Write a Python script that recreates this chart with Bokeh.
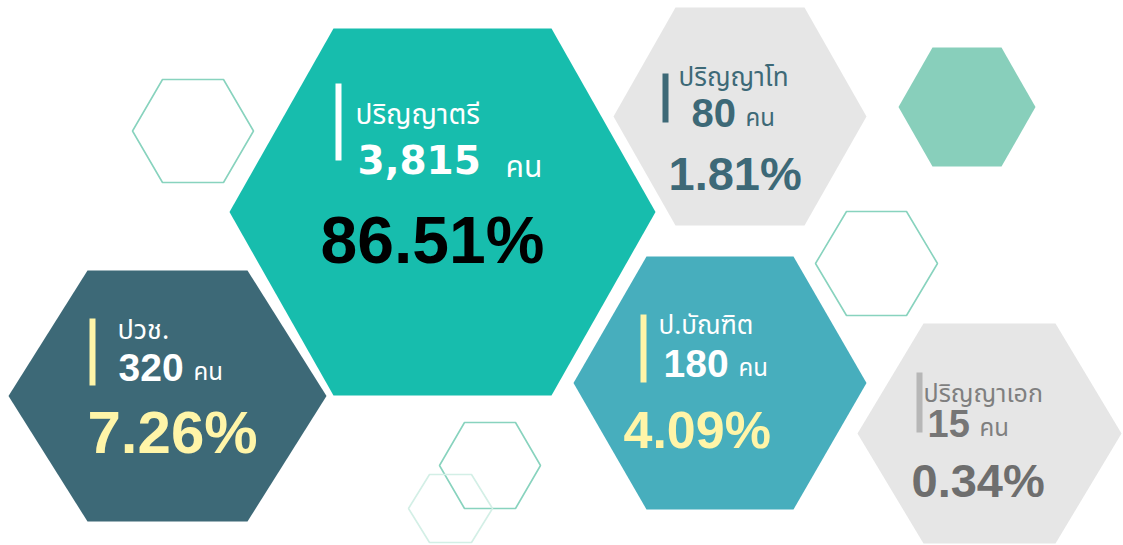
from bokeh.plotting import figure
from bokeh.models import Range1d
from bokeh.embed import file_html
from bokeh.resources import INLINE
from bokeh.core.properties import value

# ---- data ----
levels = ["ปริญญาตรี", "ปริญญาโท", "ปวช.", "ป.บัณฑิต", "ปริญญาเอก"]
counts = [3815, 80, 320, 180, 15]
percents = [86.51, 1.81, 7.26, 4.09, 0.34]
unit = "คน"

# ---- layout (screen-pixel coordinates) ----
# hexagon: cx, cy, half width, half height, corner offset
card_hex = [
    (442, 211.5, 213, 183.5, 104),
    (739.5, 116, 126.5, 109, 62),
    (167, 395.5, 159, 125.5, 79),
    (719.5, 382.5, 146.5, 126.5, 73),
    (989, 433, 132, 110, 66),
]
card_fill = ["#17BDAD", "#E6E6E6", "#3D6977", "#47AEBD", "#E6E6E6"]
bar_col = ["#FFFFFF", "#3D6977", "#FFF5A8", "#FFF5A8", "#B7B7B7"]
label_col = ["#FFFFFF", "#3D6977", "#FFFFFF", "#FFFFFF", "#7F7F7F"]
count_col = ["#FFFFFF", "#3D6977", "#FFFFFF", "#FFFFFF", "#767676"]
pct_col = ["#000000", "#3D6977", "#FFF5A8", "#FFF5A8", "#6E6E6E"]

bar_box = [(335, 341, 83, 160), (662, 668, 73, 122), (89, 95, 318, 385),
           (640, 646, 314, 382), (916, 922, 372, 432)]
label_pos = [(355, 125, 28), (678, 87, 26), (117, 340, 27), (658, 335, 26), (923, 402, 25)]
count_pos = [(357, 173, 39), (691, 127, 40), (118, 381, 39), (663, 377, 39), (927, 437, 38)]
count_font = ["DejaVu Sans", "Liberation Sans", "Liberation Sans", "Liberation Sans", "Liberation Sans"]
unit_pos = [(505, 178, 30), (745, 127, 24), (193, 381, 24), (738, 377, 24), (979, 437, 24)]
pct_pos = [(320, 263, 66), (668, 190, 47), (87, 454, 60), (623, 448, 52), (911, 497, 47)]

deco_fill = [(966.5, 106.5, 68.5, 59.5, 34)]
deco_line = [(192.5, 130.5, 60.5, 51.5, 30), (876, 263, 61, 52, 31),
             (489.5, 465, 50.5, 43, 25), (450, 508, 42, 34, 21)]
deco_line_col = ["#88D3BE", "#88D3BE", "#88D3BE", "#D3EFE6"]

BASE_SHIFT = 0.36  # renderer places the alphabetic baseline this far (in em) below y


def hexagon(cx, cy, hw, hh, off):
    xs = [cx - hw, cx - hw + off, cx + hw - off, cx + hw, cx + hw - off, cx - hw + off]
    ys = [cy, cy - hh, cy - hh, cy, cy + hh, cy + hh]
    return xs, ys


W, H = 1123, 545
p = figure(width=W, height=H, x_range=Range1d(0, W), y_range=Range1d(H, 0),
           output_backend="svg", toolbar_location=None, min_border=0,
           x_axis_location=None, y_axis_location=None)
p.grid.visible = False
p.outline_line_color = None
p.background_fill_color = "white"
p.border_fill_color = "white"

# decorative outlines
hx = [hexagon(*h) for h in deco_line]
p.patches(xs=[h[0] for h in hx], ys=[h[1] for h in hx], fill_color=None,
          line_color=deco_line_col, line_width=1.6)
hx = [hexagon(*h) for h in deco_fill]
p.patches(xs=[h[0] for h in hx], ys=[h[1] for h in hx], fill_color="#88CFBB", line_color=None)

# cards
hx = [hexagon(*h) for h in card_hex]
p.patches(xs=[h[0] for h in hx], ys=[h[1] for h in hx], fill_color=card_fill, line_color=None)

p.quad(left=[b[0] for b in bar_box], right=[b[1] for b in bar_box],
       top=[b[2] for b in bar_box], bottom=[b[3] for b in bar_box],
       fill_color=bar_col, line_color=None)

thai_font = value("Tahoma, Noto Sans Thai, Noto Sans, sans-serif")
num_font = value("Liberation Sans")


def put(x, y, size, txt, font, color, bold=False):
    p.text(x=[x], y=[y - BASE_SHIFT * size], text=[txt], text_font=font,
           text_font_style="bold" if bold else "normal", text_font_size=f"{size}px",
           text_color=color, text_align="left", text_baseline="alphabetic")


for i in range(len(levels)):
    lx, ly, ls = label_pos[i]
    put(lx, ly, ls, levels[i], thai_font, label_col[i])
    cx_, cy_, cs = count_pos[i]
    put(cx_, cy_, cs, f"{counts[i]:,}", value(count_font[i]), count_col[i], bold=True)
    ux, uy, us = unit_pos[i]
    put(ux, uy, us, unit, thai_font, label_col[i])
    px_, py_, ps = pct_pos[i]
    put(px_, py_, ps, f"{percents[i]:.2f}%", num_font, pct_col[i], bold=True)

open("out.html", "w").write(file_html(p, INLINE))
